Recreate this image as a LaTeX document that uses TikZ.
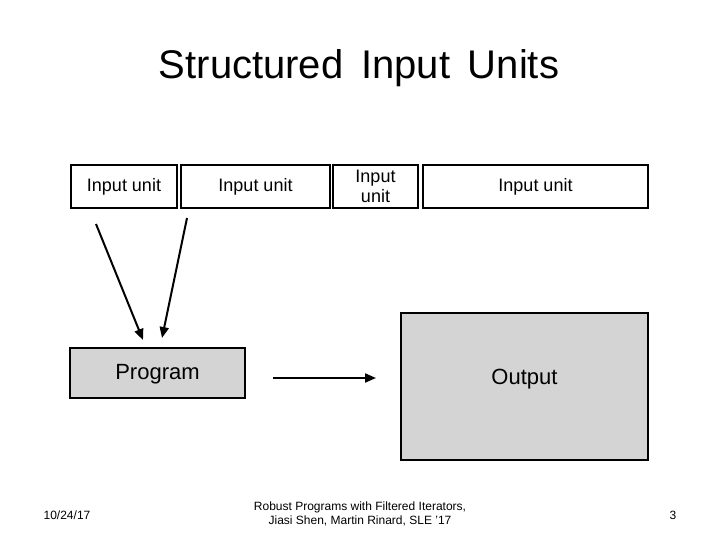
\documentclass[tikz,border=0pt]{standalone}
\usepackage{fontspec}
\setmainfont{Liberation Sans}
\usetikzlibrary{arrows.meta}
\begin{document}
\begin{tikzpicture}[x=1pt,y=-1pt,
  unit/.style={draw,line width=2pt,inner sep=0pt,font=\fontsize{18}{18}\selectfont},
  gbox/.style={draw,line width=2pt,fill=black!17,inner sep=0pt,font=\fontsize{22}{22}\selectfont},
  arr/.style={line width=2pt,-{Triangle[length=11pt,width=9pt]}},
  foot/.style={font=\fontsize{12}{14}\selectfont,align=center}]
\useasboundingbox (0,0) rectangle (720,540);
\node[font=\fontsize{40}{40}\selectfont] (title) at (359,68) {Structured\, Input\, Units};
\node[unit,minimum width=106,minimum height=43] (u1) at (124,186.5) {Input unit};
\node[unit,minimum width=149,minimum height=43] (u2) at (255.5,186.5) {Input unit};
\node[unit,minimum width=85,minimum height=43,align=center,font=\fontsize{18}{20}\selectfont] (u3) at (375.5,186.5) {Input\\unit};
\node[unit,minimum width=225,minimum height=43] (u4) at (535.5,186.5) {Input unit};
\node[gbox,minimum width=175,minimum height=50] (prog) at (157.5,373) {};
\node[font=\fontsize{22}{22}\selectfont] (progt) at (157.5,374) {Program};
\node[gbox,minimum width=247,minimum height=147] (out) at (524.5,386.5) {};
\node[font=\fontsize{22}{22}\selectfont] (outt) at (524.5,379) {Output};
\coordinate (a1s) at (96,224); \coordinate (a1e) at (143,340);
\coordinate (a2s) at (187,218); \coordinate (a2e) at (162,338);
\coordinate (a3s) at (273,378); \coordinate (a3e) at (376,378);
\draw[arr] (a1s) -- (a1e);
\draw[arr] (a2s) -- (a2e);
\draw[arr] (a3s) -- (a3e);
\node[foot] (date) at (67,515) {10/24/17};
\node[foot] (cite) at (360,514) {Robust Programs with Filtered Iterators,\\Jiasi Shen, Martin Rinard, SLE '17};
\node[foot] (page) at (673,515) {3};
\end{tikzpicture}
\end{document}
